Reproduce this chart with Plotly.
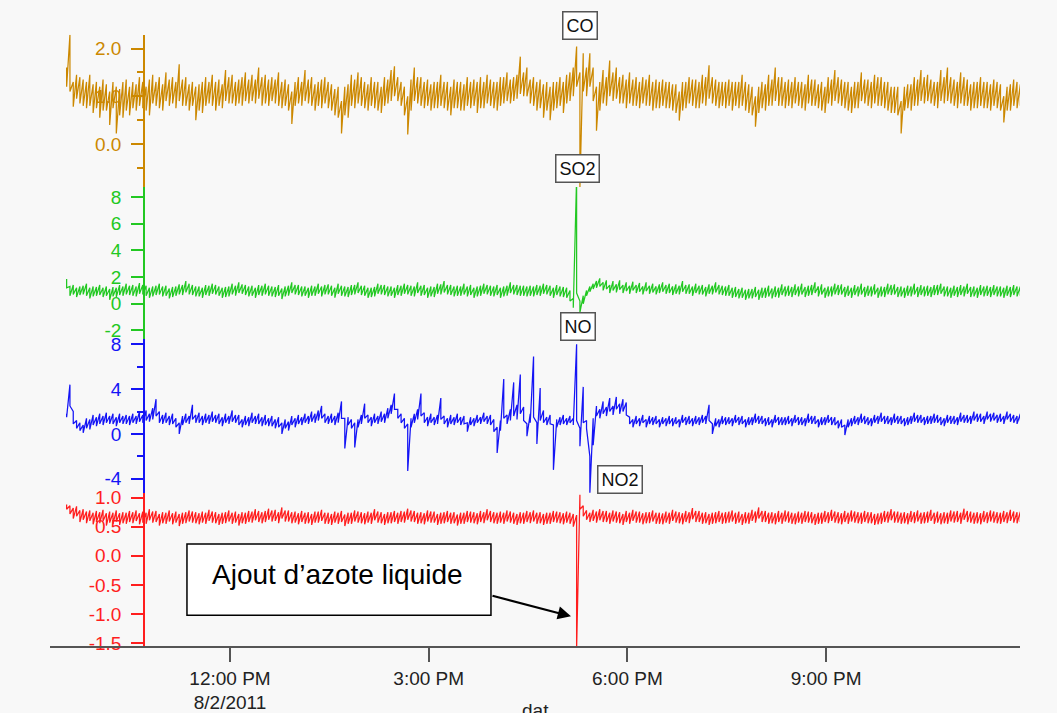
import pandas as pd
import plotly.graph_objects as go

# ---------------- data ----------------
# one bin every 3 minutes from 09:32; each series is given as the upper and lower
# envelope of the noisy signal inside each bin (min/max decimation of the trace)
start_time = "2011-08-02 09:32"
sample_step = "3min"

co_hi = [
    1.6, 2.29, 1.3, 1.45, 1.4, 1.35, 1.3, 1.45, 1.25, 1.3, 1.2, 1.35, 1.25, 1.1, 1.3, 1.2, 1.15, 1.3, 1.35, 1.2,
    1.3, 1.25, 1.4, 1.3, 1.2, 1.35, 1.45, 1.3, 1.4, 1.25, 1.5, 1.35, 1.4, 1.3, 1.67, 1.35, 1.4, 1.25, 1.3, 1.2,
    1.25, 1.3, 1.4, 1.3, 1.45, 1.3, 1.35, 1.25, 1.55, 1.4, 1.45, 1.3, 1.35, 1.4, 1.5, 1.35, 1.45, 1.35, 1.6, 1.4,
    1.45, 1.35, 1.4, 1.35, 1.5, 1.3, 1.35, 1.25, 1.1, 1.3, 1.4, 1.3, 1.55, 1.35, 1.4, 1.25, 1.3, 1.35, 1.4, 1.3,
    1.25, 1.15, 1.2, 0.9, 1.2, 1.25, 1.45, 1.35, 1.5, 1.4, 1.3, 1.25, 1.4, 1.3, 1.3, 1.2, 1.4, 1.35, 1.55, 1.63,
    1.4, 1.3, 1.2, 1.0, 1.35, 1.6, 1.4, 1.4, 1.3, 1.35, 1.25, 1.3, 1.3, 1.45, 1.3, 1.3, 1.2, 1.35, 1.3, 1.3,
    1.25, 1.4, 1.3, 1.35, 1.3, 1.4, 1.3, 1.45, 1.35, 1.3, 1.3, 1.4, 1.4, 1.5, 1.35, 1.4, 1.45, 1.83, 1.5, 1.6,
    1.35, 1.4, 1.3, 1.35, 1.25, 1.3, 1.2, 1.3, 1.3, 1.4, 1.3, 1.45, 1.5, 1.6, 2.04, 1.5, 1.9, 1.6, 1.9, 1.6,
    1.2, 1.3, 1.55, 1.4, 1.75, 1.5, 1.6, 1.4, 1.45, 1.35, 1.5, 1.35, 1.4, 1.3, 1.4, 1.35, 1.45, 1.3, 1.35, 1.3,
    1.35, 1.3, 1.3, 1.25, 1.25, 1.1, 1.3, 1.3, 1.4, 1.35, 1.35, 1.3, 1.45, 1.4, 1.65, 1.4, 1.35, 1.3, 1.3, 1.3,
    1.35, 1.3, 1.3, 1.3, 1.45, 1.3, 1.25, 1.2, 1.0, 1.2, 1.3, 1.25, 1.45, 1.35, 1.6, 1.4, 1.4, 1.3, 1.35, 1.3,
    1.4, 1.3, 1.3, 1.25, 1.45, 1.35, 1.35, 1.25, 1.3, 1.2, 1.4, 1.35, 1.55, 1.4, 1.35, 1.3, 1.3, 1.2, 1.3, 1.3,
    1.5, 1.35, 1.35, 1.3, 1.45, 1.4, 1.4, 1.3, 1.3, 1.2, 1.2, 1.2, 0.9, 1.2, 1.25, 1.25, 1.4, 1.35, 1.55, 1.4,
    1.45, 1.35, 1.3, 1.3, 1.55, 1.4, 1.6, 1.4, 1.35, 1.3, 1.5, 1.4, 1.35, 1.25, 1.3, 1.3, 1.4, 1.3, 1.3, 1.25,
    1.35, 1.3, 1.25, 1.0, 1.2, 1.25, 1.35, 1.3, 1.25,
]
co_lo = [
    1.2, 1.1, 0.78, 0.95, 0.85, 0.8, 0.75, 0.8, 0.65, 0.75, 0.55, 0.7, 0.7, 0.4, 0.75, 0.22, 0.6, 0.55, 0.7, 0.6,
    0.75, 0.7, 0.8, 0.75, 0.7, 0.6, 0.85, 0.8, 0.75, 0.7, 0.9, 0.8, 0.85, 0.75, 0.9, 0.8, 0.8, 0.7, 0.8, 0.5,
    0.7, 0.65, 0.8, 0.85, 0.8, 0.7, 0.8, 0.75, 0.9, 0.85, 0.85, 0.8, 0.85, 0.8, 0.9, 0.85, 0.9, 0.85, 0.95, 0.8,
    0.85, 0.8, 0.9, 0.85, 0.8, 0.75, 0.8, 0.7, 0.42, 0.8, 0.85, 0.8, 0.9, 0.85, 0.8, 0.7, 0.8, 0.75, 0.85, 0.75,
    0.7, 0.6, 0.55, 0.22, 0.6, 0.55, 0.8, 0.75, 0.85, 0.8, 0.75, 0.7, 0.8, 0.75, 0.7, 0.65, 0.8, 0.85, 0.9, 1.0,
    0.9, 0.8, 0.6, 0.2, 0.7, 0.9, 0.85, 0.8, 0.75, 0.8, 0.7, 0.75, 0.75, 0.8, 0.75, 0.7, 0.6, 0.75, 0.75, 0.7,
    0.7, 0.8, 0.75, 0.8, 0.65, 0.75, 0.75, 0.85, 0.8, 0.75, 0.7, 0.8, 0.85, 0.9, 0.85, 0.9, 0.95, 1.05, 1.0, 1.0,
    0.85, 0.8, 0.7, 0.75, 0.55, 0.7, 0.5, 0.7, 0.75, 0.8, 0.65, 0.85, 0.9, 1.0, 1.2, -0.9, 1.1, 1.0, 1.2, 0.9,
    0.28, 0.7, 0.85, 0.8, 1.0, 0.9, 0.95, 0.85, 0.85, 0.75, 0.85, 0.8, 0.8, 0.75, 0.85, 0.8, 0.8, 0.7, 0.75, 0.75,
    0.8, 0.75, 0.75, 0.7, 0.65, 0.49, 0.7, 0.75, 0.85, 0.8, 0.75, 0.75, 0.85, 0.8, 0.95, 0.85, 0.8, 0.75, 0.8, 0.75,
    0.8, 0.7, 0.8, 0.75, 0.8, 0.7, 0.65, 0.6, 0.36, 0.65, 0.75, 0.7, 0.8, 0.8, 0.9, 0.8, 0.8, 0.75, 0.8, 0.75,
    0.85, 0.8, 0.75, 0.7, 0.85, 0.8, 0.8, 0.75, 0.7, 0.65, 0.85, 0.8, 0.9, 0.85, 0.8, 0.75, 0.7, 0.65, 0.75, 0.75,
    0.9, 0.85, 0.8, 0.75, 0.85, 0.8, 0.8, 0.75, 0.7, 0.65, 0.65, 0.6, 0.22, 0.7, 0.75, 0.7, 0.8, 0.8, 0.9, 0.85,
    0.9, 0.85, 0.8, 0.75, 0.9, 0.85, 0.9, 0.85, 0.8, 0.75, 0.85, 0.8, 0.8, 0.7, 0.75, 0.75, 0.8, 0.75, 0.75, 0.7,
    0.8, 0.75, 0.7, 0.45, 0.7, 0.7, 0.8, 0.75, 0.8,
]

so2_hi = [
    1.85, 1.3, 1.4, 1.2, 1.3, 1.35, 1.5, 1.2, 1.3, 1.25, 1.4, 1.2, 1.3, 1.1, 1.25, 1.2, 1.4, 1.3, 1.5, 1.35,
    1.4, 1.3, 1.55, 1.4, 1.35, 1.2, 1.3, 1.35, 1.5, 1.3, 1.35, 1.15, 1.25, 1.3, 1.45, 1.4, 1.7, 1.5, 1.4, 1.3,
    1.3, 1.2, 1.4, 1.35, 1.5, 1.4, 1.3, 1.2, 1.25, 1.3, 1.5, 1.35, 1.6, 1.45, 1.4, 1.3, 1.35, 1.2, 1.4, 1.35,
    1.5, 1.35, 1.3, 1.25, 1.4, 1.15, 1.3, 1.35, 1.6, 1.4, 1.4, 1.3, 1.3, 1.2, 1.35, 1.3, 1.5, 1.3, 1.4, 1.45,
    1.35, 1.2, 1.5, 1.35, 1.3, 1.25, 1.4, 1.4, 1.6, 1.35, 1.35, 1.2, 1.2, 1.25, 1.5, 1.4, 1.4, 1.3, 1.3, 1.2,
    1.4, 1.35, 1.5, 1.4, 1.35, 1.3, 1.6, 1.35, 1.4, 1.2, 1.3, 1.25, 1.5, 1.45, 1.7, 1.4, 1.4, 1.3, 1.35, 1.3,
    1.5, 1.3, 1.4, 1.2, 1.3, 1.35, 1.5, 1.4, 1.35, 1.3, 1.4, 1.2, 1.3, 1.35, 1.6, 1.4, 1.4, 1.35, 1.35, 1.3,
    1.35, 1.3, 1.4, 1.35, 1.5, 1.4, 1.35, 1.2, 1.4, 1.3, 1.25, 1.2, 1.0, 0.4, 9.5, 0.2, 0.6, 1.0, 1.3, 1.5,
    1.7, 1.9, 1.6, 1.75, 1.4, 1.7, 1.45, 1.75, 1.4, 1.6, 1.35, 1.65, 1.4, 1.55, 1.3, 1.6, 1.35, 1.5, 1.3, 1.45,
    1.6, 1.4, 1.5, 1.3, 1.45, 1.35, 1.7, 1.4, 1.45, 1.3, 1.5, 1.35, 1.4, 1.25, 1.45, 1.35, 1.6, 1.4, 1.35, 1.3,
    1.4, 1.2, 1.25, 1.1, 1.2, 1.05, 1.1, 1.1, 1.25, 1.05, 1.2, 1.2, 1.35, 1.15, 1.3, 1.2, 1.45, 1.3, 1.35, 1.25,
    1.45, 1.3, 1.5, 1.25, 1.35, 1.4, 1.6, 1.3, 1.45, 1.2, 1.3, 1.3, 1.5, 1.4, 1.45, 1.25, 1.35, 1.2, 1.4, 1.3,
    1.5, 1.25, 1.35, 1.3, 1.45, 1.2, 1.3, 1.25, 1.5, 1.4, 1.45, 1.25, 1.3, 1.2, 1.35, 1.3, 1.5, 1.25, 1.4, 1.3,
    1.35, 1.25, 1.4, 1.4, 1.5, 1.3, 1.3, 1.2, 1.35, 1.25, 1.4, 1.3, 1.5, 1.25, 1.3, 1.2, 1.4, 1.3, 1.35, 1.25,
    1.4, 1.3, 1.3, 1.2, 1.35, 1.25, 1.4, 1.3, 1.3,
]
so2_lo = [
    1.2, 0.6, 0.7, 0.5, 0.65, 0.7, 0.6, 0.4, 0.55, 0.6, 0.65, 0.5, 0.6, 0.3, 0.55, 0.5, 0.65, 0.6, 0.7, 0.65,
    0.6, 0.55, 0.75, 0.7, 0.6, 0.45, 0.55, 0.65, 0.7, 0.55, 0.6, 0.4, 0.5, 0.6, 0.7, 0.65, 0.85, 0.7, 0.65, 0.55,
    0.55, 0.45, 0.65, 0.6, 0.75, 0.7, 0.6, 0.45, 0.5, 0.55, 0.7, 0.6, 0.8, 0.75, 0.65, 0.55, 0.6, 0.45, 0.65, 0.6,
    0.7, 0.6, 0.55, 0.5, 0.6, 0.35, 0.55, 0.6, 0.8, 0.7, 0.65, 0.55, 0.6, 0.45, 0.6, 0.6, 0.75, 0.55, 0.7, 0.7,
    0.6, 0.45, 0.75, 0.6, 0.55, 0.5, 0.65, 0.7, 0.8, 0.65, 0.6, 0.45, 0.5, 0.55, 0.75, 0.7, 0.65, 0.55, 0.6, 0.45,
    0.65, 0.6, 0.75, 0.7, 0.6, 0.55, 0.8, 0.6, 0.65, 0.45, 0.55, 0.5, 0.75, 0.7, 0.85, 0.7, 0.65, 0.55, 0.6, 0.6,
    0.7, 0.55, 0.65, 0.45, 0.55, 0.6, 0.75, 0.7, 0.6, 0.55, 0.65, 0.45, 0.55, 0.6, 0.8, 0.7, 0.65, 0.6, 0.6, 0.55,
    0.6, 0.55, 0.65, 0.6, 0.75, 0.7, 0.6, 0.45, 0.65, 0.55, 0.5, 0.45, 0.2, -0.3, 0.8, -0.65, 0.0, 0.6, 0.9, 1.1,
    1.2, 1.3, 1.0, 1.1, 0.8, 1.0, 0.85, 1.05, 0.8, 0.95, 0.75, 1.0, 0.8, 0.9, 0.7, 0.95, 0.75, 0.85, 0.7, 0.8,
    0.9, 0.75, 0.8, 0.65, 0.75, 0.7, 0.9, 0.75, 0.75, 0.6, 0.8, 0.7, 0.7, 0.55, 0.75, 0.7, 0.85, 0.7, 0.65, 0.6,
    0.6, 0.45, 0.5, 0.4, 0.45, 0.3, 0.4, 0.4, 0.5, 0.3, 0.45, 0.45, 0.55, 0.4, 0.5, 0.45, 0.65, 0.55, 0.6, 0.5,
    0.65, 0.55, 0.7, 0.5, 0.6, 0.65, 0.8, 0.55, 0.7, 0.45, 0.55, 0.55, 0.7, 0.65, 0.7, 0.5, 0.6, 0.45, 0.65, 0.55,
    0.7, 0.5, 0.6, 0.55, 0.7, 0.45, 0.55, 0.5, 0.7, 0.65, 0.7, 0.5, 0.55, 0.45, 0.6, 0.55, 0.7, 0.5, 0.65, 0.55,
    0.6, 0.5, 0.65, 0.65, 0.75, 0.55, 0.55, 0.45, 0.6, 0.5, 0.65, 0.55, 0.75, 0.5, 0.55, 0.45, 0.65, 0.55, 0.6, 0.5,
    0.65, 0.55, 0.55, 0.45, 0.6, 0.5, 0.65, 0.55, 0.6,
]

no_hi = [
    1.8, 4.4, 2.0, 1.2, 1.0, 0.8, 1.4, 1.3, 1.7, 1.5, 1.8, 1.6, 1.9, 1.6, 1.8, 1.5, 1.8, 1.6, 1.7, 1.6,
    1.8, 1.6, 2.0, 1.7, 2.1, 1.8, 2.3, 3.1, 2.0, 1.7, 1.9, 1.6, 1.8, 1.4, 1.0, 1.6, 1.8, 1.6, 2.6, 1.7,
    1.9, 1.6, 1.8, 1.7, 2.0, 1.7, 1.8, 1.5, 1.8, 1.6, 2.1, 1.7, 1.7, 1.3, 1.6, 1.5, 1.9, 1.6, 1.8, 1.5,
    1.7, 1.4, 1.6, 1.3, 1.5, 1.0, 1.3, 1.1, 1.6, 1.4, 1.7, 1.5, 1.8, 1.6, 2.0, 1.8, 2.1, 2.5, 1.8, 1.6,
    1.8, 1.6, 1.9, 2.9, 1.4, 1.5, 1.3, 1.0, 1.3, 1.7, 2.7, 1.7, 1.5, 1.8, 1.6, 2.0, 1.8, 2.3, 2.6, 3.6,
    2.2, 1.8, 1.4, 0.9, 1.4, 1.8, 2.2, 3.6, 1.9, 1.5, 1.8, 1.5, 1.7, 3.2, 1.6, 1.4, 1.7, 1.5, 1.8, 1.5,
    1.6, 1.0, 1.5, 1.4, 1.7, 1.5, 1.9, 1.6, 1.7, 1.3, 0.6, 1.2, 4.9, 1.7, 2.2, 4.6, 2.6, 5.3, 2.4, 0.9,
    1.8, 6.9, 1.0, 4.1, 2.1, 1.5, 1.7, 0.8, 1.3, 1.5, 1.7, 1.4, 1.6, 1.4, 8.0, 0.5, 4.2, 1.2, -2.0, 1.4,
    2.5, 2.2, 2.9, 2.4, 3.2, 2.5, 3.3, 2.7, 3.1, 2.8, 1.5, 1.3, 1.6, 1.4, 1.7, 1.3, 1.6, 1.5, 1.6, 1.3,
    1.5, 1.4, 1.6, 1.4, 1.5, 1.3, 1.7, 1.5, 1.6, 1.4, 1.6, 1.5, 1.7, 1.6, 2.6, 0.9, 1.4, 1.3, 1.6, 1.5,
    1.5, 1.4, 1.7, 1.5, 1.6, 1.3, 1.5, 1.5, 1.8, 1.6, 1.6, 1.4, 1.5, 1.3, 1.7, 1.5, 1.5, 1.5, 1.6, 1.4,
    1.7, 1.5, 1.5, 1.4, 1.8, 1.6, 1.6, 1.3, 1.5, 1.5, 1.7, 1.5, 1.5, 1.2, 1.3, 0.8, 1.3, 1.4, 1.6, 1.5,
    1.8, 1.6, 1.5, 1.4, 1.7, 1.6, 1.9, 1.6, 1.6, 1.5, 1.8, 1.6, 1.6, 1.4, 1.5, 1.6, 1.9, 1.7, 1.7, 1.5,
    1.6, 1.6, 1.8, 1.7, 1.5, 1.4, 1.7, 1.6, 1.6, 1.5, 1.9, 1.7, 1.7, 1.6, 2.0, 1.8, 1.8, 1.6, 2.0, 1.8,
    1.9, 1.7, 1.8, 1.6, 2.0, 1.8, 1.7, 1.6, 1.8,
]
no_lo = [
    1.5, 2.5, 0.9, 0.5, 0.3, 0.1, 0.5, 0.4, 0.8, 0.7, 0.9, 0.8, 1.0, 0.9, 0.9, 0.7, 1.0, 0.9, 0.9, 0.8,
    1.0, 0.9, 1.1, 1.0, 1.2, 1.1, 1.3, 1.6, 1.0, 0.9, 1.0, 0.8, 0.9, 0.6, 0.0, 0.8, 1.0, 0.9, 1.3, 1.0,
    1.0, 0.8, 1.0, 0.9, 1.1, 1.0, 0.9, 0.7, 1.0, 0.9, 1.1, 1.0, 0.8, 0.6, 0.8, 0.7, 1.0, 0.9, 0.9, 0.7,
    0.8, 0.7, 0.7, 0.5, 0.6, 0.0, 0.5, 0.3, 0.8, 0.6, 0.9, 0.8, 1.0, 0.9, 1.1, 1.0, 1.2, 1.4, 1.0, 0.9,
    1.0, 0.8, 1.0, 1.4, -1.3, 0.8, 0.5, -1.2, 0.6, 0.9, 1.4, 1.0, 0.7, 1.0, 0.9, 1.1, 1.0, 1.4, 1.8, 2.2,
    1.4, 1.0, 0.5, -3.3, 0.6, 1.0, 1.3, 1.6, 1.0, 0.7, 1.0, 0.8, 0.9, 1.3, 0.9, 0.6, 0.9, 0.8, 1.0, 0.8,
    0.9, 0.2, 0.8, 0.7, 1.0, 0.9, 1.1, 0.9, 0.8, 0.2, -1.7, 0.3, 1.4, 0.9, 1.2, 1.6, 1.3, 1.8, 1.2, -0.2,
    1.0, 1.5, -0.9, 1.2, 1.0, 0.8, 0.9, -3.2, 0.6, 0.8, 0.9, 0.8, 1.0, 0.8, 1.2, -1.1, 1.0, 0.5, -5.3, -1.0,
    1.6, 1.4, 1.8, 1.6, 2.0, 1.7, 2.2, 1.8, 2.0, 1.7, 0.9, 0.6, 0.9, 0.7, 1.0, 0.6, 0.9, 0.8, 0.9, 0.6,
    0.9, 0.7, 0.9, 0.7, 0.9, 0.6, 1.0, 0.8, 0.9, 0.7, 0.9, 0.8, 1.0, 0.9, 1.2, 0.0, 0.7, 0.6, 0.9, 0.8,
    0.9, 0.7, 1.0, 0.8, 0.9, 0.6, 0.8, 0.8, 1.0, 0.9, 0.9, 0.7, 0.8, 0.6, 1.0, 0.8, 0.8, 0.8, 0.9, 0.7,
    1.0, 0.8, 0.8, 0.7, 1.0, 0.9, 0.9, 0.6, 0.8, 0.8, 1.0, 0.8, 0.8, 0.5, 0.6, -0.1, 0.6, 0.7, 0.9, 0.8,
    1.0, 0.9, 0.8, 0.7, 1.0, 0.9, 1.1, 0.9, 0.9, 0.8, 1.0, 0.9, 0.9, 0.7, 0.8, 0.9, 1.1, 1.0, 1.0, 0.8,
    0.9, 0.9, 1.0, 1.0, 0.8, 0.7, 1.0, 0.9, 0.9, 0.8, 1.1, 1.0, 1.0, 0.9, 1.2, 1.1, 1.1, 0.9, 1.3, 1.1,
    1.2, 1.0, 1.1, 0.9, 1.3, 1.1, 1.0, 0.9, 1.2,
]

no2_hi = [
    0.88, 0.86, 0.82, 0.85, 0.78, 0.8, 0.76, 0.78, 0.74, 0.77, 0.75, 0.79, 0.73, 0.76, 0.74, 0.78, 0.73, 0.75, 0.74, 0.77,
    0.75, 0.78, 0.73, 0.76, 0.74, 0.8, 0.76, 0.77, 0.72, 0.75, 0.74, 0.78, 0.73, 0.76, 0.72, 0.74, 0.75, 0.78, 0.76, 0.75,
    0.73, 0.76, 0.74, 0.79, 0.76, 0.75, 0.72, 0.74, 0.75, 0.78, 0.74, 0.76, 0.72, 0.75, 0.74, 0.77, 0.76, 0.8, 0.77, 0.75,
    0.77, 0.81, 0.78, 0.79, 0.75, 0.83, 0.78, 0.78, 0.75, 0.76, 0.73, 0.77, 0.74, 0.75, 0.72, 0.76, 0.76, 0.79, 0.74, 0.74,
    0.72, 0.76, 0.74, 0.77, 0.71, 0.74, 0.74, 0.78, 0.76, 0.75, 0.73, 0.76, 0.74, 0.8, 0.76, 0.75, 0.72, 0.75, 0.75, 0.77,
    0.74, 0.77, 0.76, 0.81, 0.78, 0.77, 0.74, 0.75, 0.73, 0.78, 0.76, 0.76, 0.72, 0.74, 0.75, 0.77, 0.74, 0.75, 0.71, 0.74,
    0.74, 0.77, 0.76, 0.75, 0.73, 0.77, 0.75, 0.8, 0.77, 0.75, 0.74, 0.76, 0.74, 0.78, 0.76, 0.74, 0.72, 0.75, 0.74, 0.77,
    0.75, 0.78, 0.74, 0.75, 0.72, 0.74, 0.74, 0.77, 0.76, 0.75, 0.73, 0.76, 0.74, 0.72, 0.7, 1.05, 0.86, 0.78, 0.74, 0.79,
    0.76, 0.8, 0.77, 0.77, 0.74, 0.78, 0.76, 0.75, 0.72, 0.77, 0.74, 0.79, 0.76, 0.76, 0.73, 0.75, 0.75, 0.78, 0.74, 0.74,
    0.73, 0.76, 0.74, 0.79, 0.76, 0.75, 0.73, 0.77, 0.75, 0.82, 0.77, 0.77, 0.74, 0.75, 0.72, 0.74, 0.75, 0.77, 0.74, 0.75,
    0.76, 0.78, 0.74, 0.76, 0.72, 0.75, 0.74, 0.79, 0.76, 0.83, 0.77, 0.77, 0.74, 0.75, 0.73, 0.77, 0.74, 0.78, 0.76, 0.74,
    0.73, 0.76, 0.74, 0.77, 0.76, 0.75, 0.72, 0.74, 0.74, 0.77, 0.75, 0.79, 0.76, 0.75, 0.73, 0.77, 0.74, 0.78, 0.76, 0.75,
    0.74, 0.77, 0.75, 0.75, 0.72, 0.73, 0.74, 0.77, 0.76, 0.8, 0.76, 0.76, 0.74, 0.75, 0.73, 0.77, 0.75, 0.78, 0.74, 0.75,
    0.76, 0.79, 0.74, 0.76, 0.73, 0.75, 0.74, 0.78, 0.76, 0.77, 0.74, 0.81, 0.77, 0.76, 0.74, 0.75, 0.73, 0.77, 0.75, 0.78,
    0.76, 0.75, 0.74, 0.77, 0.75, 0.79, 0.76, 0.75, 0.76,
]
no2_lo = [
    0.8, 0.72, 0.64, 0.68, 0.58, 0.62, 0.56, 0.6, 0.54, 0.58, 0.56, 0.6, 0.52, 0.57, 0.55, 0.59, 0.53, 0.56, 0.55, 0.58,
    0.56, 0.6, 0.54, 0.57, 0.55, 0.61, 0.57, 0.58, 0.52, 0.56, 0.55, 0.59, 0.54, 0.57, 0.51, 0.55, 0.56, 0.59, 0.57, 0.56,
    0.54, 0.57, 0.55, 0.6, 0.57, 0.56, 0.53, 0.55, 0.56, 0.59, 0.55, 0.57, 0.52, 0.56, 0.55, 0.58, 0.57, 0.61, 0.58, 0.56,
    0.58, 0.62, 0.59, 0.6, 0.56, 0.64, 0.59, 0.59, 0.56, 0.57, 0.54, 0.58, 0.55, 0.56, 0.53, 0.57, 0.57, 0.6, 0.55, 0.55,
    0.53, 0.57, 0.55, 0.58, 0.51, 0.55, 0.55, 0.59, 0.57, 0.56, 0.54, 0.57, 0.55, 0.61, 0.57, 0.56, 0.53, 0.56, 0.56, 0.58,
    0.55, 0.58, 0.57, 0.62, 0.59, 0.58, 0.55, 0.56, 0.54, 0.59, 0.57, 0.57, 0.53, 0.55, 0.56, 0.58, 0.55, 0.56, 0.52, 0.55,
    0.55, 0.58, 0.57, 0.56, 0.54, 0.58, 0.56, 0.61, 0.58, 0.56, 0.55, 0.57, 0.55, 0.59, 0.57, 0.55, 0.53, 0.56, 0.55, 0.58,
    0.56, 0.59, 0.55, 0.56, 0.53, 0.55, 0.55, 0.58, 0.57, 0.56, 0.54, 0.57, 0.55, 0.5, -1.6, 0.8, 0.68, 0.62, 0.58, 0.6,
    0.57, 0.61, 0.58, 0.58, 0.55, 0.59, 0.57, 0.56, 0.53, 0.58, 0.55, 0.6, 0.57, 0.57, 0.54, 0.56, 0.56, 0.59, 0.55, 0.55,
    0.54, 0.57, 0.55, 0.6, 0.57, 0.56, 0.54, 0.58, 0.56, 0.63, 0.58, 0.58, 0.55, 0.56, 0.53, 0.55, 0.56, 0.58, 0.55, 0.56,
    0.57, 0.59, 0.55, 0.57, 0.53, 0.56, 0.55, 0.6, 0.57, 0.64, 0.58, 0.58, 0.55, 0.56, 0.54, 0.58, 0.55, 0.59, 0.57, 0.55,
    0.54, 0.57, 0.55, 0.58, 0.57, 0.56, 0.53, 0.55, 0.55, 0.58, 0.56, 0.6, 0.57, 0.56, 0.54, 0.58, 0.55, 0.59, 0.57, 0.56,
    0.55, 0.58, 0.56, 0.56, 0.53, 0.54, 0.55, 0.58, 0.57, 0.61, 0.57, 0.57, 0.55, 0.56, 0.54, 0.58, 0.56, 0.59, 0.55, 0.56,
    0.57, 0.6, 0.55, 0.57, 0.54, 0.56, 0.55, 0.59, 0.57, 0.58, 0.55, 0.62, 0.58, 0.57, 0.55, 0.56, 0.54, 0.58, 0.56, 0.59,
    0.57, 0.56, 0.55, 0.58, 0.56, 0.6, 0.57, 0.56, 0.58,
]

tick_times = ["2011-08-02 12:00", "2011-08-02 15:00", "2011-08-02 18:00", "2011-08-02 21:00"]
tick_labels = ["12:00 PM<br>8/2/2011", "3:00 PM", "6:00 PM", "9:00 PM"]
x_range = ["2011-08-02 09:16:56", "2011-08-02 23:55:41"]

co_ticks = [0.0, 1.0, 2.0]
so2_ticks = [-2, 0, 2, 4, 6, 8]
no_ticks = [-4, 0, 4, 8]
no2_ticks = [-1.5, -1.0, -0.5, 0.0, 0.5, 1.0]

series_names = ["CO", "SO2", "NO", "NO2"]
annotation_text = "Ajout d\u2019azote liquide"
x_title = "dat"

# ---------------- styling ----------------
FONT = "Liberation Sans, Arial, sans-serif"
C_CO, C_SO2, C_NO, C_NO2 = "#cc8800", "#22c822", "#1414f5", "#ff1e1e"
BG = "#f8f8f8"
AX_POS = 0.0969
LW = 1.25

times = pd.date_range(start=start_time, periods=len(co_hi), freq=sample_step)
x_env = [t for t in times for _ in (0, 1)]


def envelope(hi, lo):
    return [v for pair in zip(hi, lo) for v in pair]


fig = go.Figure()
fig.add_trace(go.Scatter(x=x_env, y=envelope(no2_hi, no2_lo), mode="lines",
                         line=dict(color=C_NO2, width=LW), yaxis="y", name="NO2"))
fig.add_trace(go.Scatter(x=x_env, y=envelope(no_hi, no_lo), mode="lines",
                         line=dict(color=C_NO, width=LW), yaxis="y2", name="NO"))
fig.add_trace(go.Scatter(x=x_env, y=envelope(so2_hi, so2_lo), mode="lines",
                         line=dict(color=C_SO2, width=LW), yaxis="y3", name="SO2"))
fig.add_trace(go.Scatter(x=x_env, y=envelope(co_hi, co_lo), mode="lines",
                         line=dict(color=C_CO, width=LW), yaxis="y4", name="CO"))


def fmt(v, dec):
    return f"{v:.{dec}f}"  # plain hyphen-minus, as in the original


def yax(color, domain, rng, ticks, dec, minor=None):
    d = dict(
        domain=domain, range=rng, anchor="free", position=AX_POS,
        showline=True, linecolor=color, linewidth=1.5,
        ticks="outside", ticklen=12, tickwidth=1.5, tickcolor=color,
        tickmode="array", tickvals=ticks, ticktext=[fmt(v, dec) for v in ticks],
        tickfont=dict(family=FONT, size=19, color=color),
        showgrid=False, zeroline=False, layer="below traces",
        ticklabelstandoff=6,
    )
    if minor is not None:
        d["minor"] = dict(tickmode="linear", tick0=0, dtick=minor, ticks="outside", ticklen=6,
                          tickwidth=1.5, tickcolor=color, showgrid=False)
    return d


fig.update_layout(
    width=1057, height=713, autosize=False,
    margin=dict(l=50, r=37, t=0, b=65),
    paper_bgcolor=BG, plot_bgcolor=BG,
    showlegend=False,
    xaxis=dict(
        type="date", range=x_range, anchor="y",
        tickvals=tick_times, ticktext=tick_labels,
        showline=True, linecolor="#555555", linewidth=1.5,
        ticks="outside", ticklen=14, tickwidth=1.5, tickcolor="#555555",
        tickfont=dict(family=FONT, size=19, color="#222222"),
        showgrid=False, zeroline=False,
    ),
    yaxis=yax(C_NO2, [0.0, 0.2392], [-1.551, 1.085], no2_ticks, 1),
    yaxis2=yax(C_NO, [0.2392, 0.4784], [-5.236, 8.44], no_ticks, 0, minor=2),
    yaxis3=yax(C_SO2, [0.4784, 0.7160], [-2.667, 8.74], so2_ticks, 0),
    yaxis4=yax(C_CO, [0.7160, 0.9537], [-0.9016, 2.29], co_ticks, 1, minor=0.5),
)

# labelled boxes for each series
label_pos = {"CO": (0.5464, 0.9675), "SO2": (0.5433, 0.745), "NO": (0.5443, 0.498), "NO2": (0.5876, 0.259)}
for name in series_names:
    px_, py_ = label_pos[name]
    fig.add_annotation(
        x=px_, y=py_, xref="paper", yref="paper", xanchor="center", yanchor="middle",
        text=name, showarrow=False,
        font=dict(family=FONT, size=18, color="#111111"),
        bgcolor="white", bordercolor="#555555", borderwidth=1.5, borderpad=3,
    )

# annotation box + arrow
fig.add_shape(type="rect", xref="paper", yref="paper", x0=0.1412, x1=0.4546, y0=0.0478, y1=0.1590,
              fillcolor="white", line=dict(color="black", width=1.5), layer="above")
fig.add_annotation(x=0.2969, y=0.1111, xref="paper", yref="paper", xanchor="center", yanchor="middle",
                   text=annotation_text, showarrow=False,
                   font=dict(family=FONT, size=28, color="black"))
fig.add_annotation(x=0.5371, y=0.0463, xref="paper", yref="paper", text="", showarrow=True,
                   ax=-80, ay=-21, arrowhead=2, arrowsize=1.2, arrowwidth=2.2, arrowcolor="black")

# x-axis title (partially cut off at the bottom, as in the original)
fig.add_annotation(x=0.5, y=1 - 701 / 648, xref="paper", yref="paper", xanchor="center", yanchor="top",
                   text=x_title, showarrow=False, font=dict(family=FONT, size=19, color="#222222"))

fig.write_html("out.html")
